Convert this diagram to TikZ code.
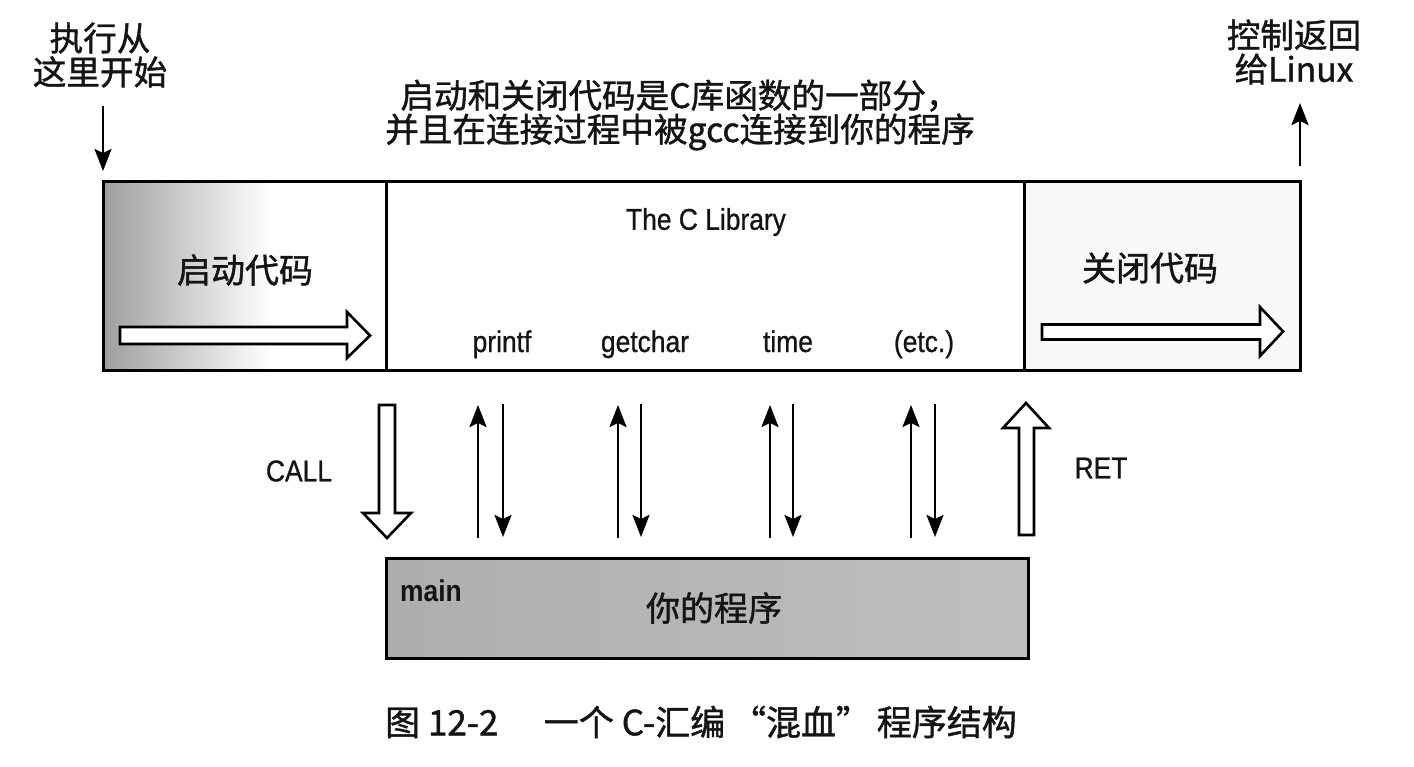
\documentclass[tikz,border=0pt]{standalone}
\usepackage{fontspec}
\setmainfont{Liberation Sans}
\newfontfamily\cjk[FakeBold=1.2]{Noto Sans CJK SC}
\newfontfamily\narrow[FakeStretch=0.88,FakeBold=0.8]{Liberation Sans}
\newfontfamily\narrowb[FakeStretch=0.88]{Liberation Sans Bold}
\usetikzlibrary{arrows.meta}
\definecolor{ink}{HTML}{141414}
\definecolor{endfill}{HTML}{F8F8F8}
\begin{document}
\begin{tikzpicture}[x=0.5pt,y=-0.5pt,
  box/.style={draw=black,line width=1.5pt,inner sep=0pt,minimum height=94.5pt},
  lat/.style={font=\narrow\fontsize{15}{18}\selectfont,text=ink,inner sep=0pt},
  cjkt/.style={font=\cjk\fontsize{16.8}{17}\selectfont,text=ink,align=center,inner sep=0pt},
  cjkbig/.style={font=\cjk\fontsize{17}{20}\selectfont,text=ink,inner sep=0pt},
  thinarr/.style={line width=1.2pt,-{Stealth[length=11pt,width=8.5pt,inset=2pt]}},
  hollow/.style={draw=black,line width=1.3pt,fill=white,line join=miter}
]
\useasboundingbox (0,0) rectangle (1414,766);
\fill[white] (0,0) rectangle (1414,766);

% shading of the boxes
\fill[left color=black!38,right color=white] (103,181) rectangle (270,370);
\fill[endfill] (1024,181) rectangle (1300,370);
\fill[left color=black!32,middle color=black!10,right color=black!25] (386,558) rectangle (1028,658);

% top row boxes
\node[box,minimum width=141.5pt] (start) at (244.5,275.5) {};
\node[box,minimum width=319pt] (lib) at (705,275.5) {};
\node[box,minimum width=138pt] (end) at (1162,275.5) {};
% main program box
\node[box,minimum width=321pt,minimum height=50pt] (prog) at (707,608) {};

% labels in boxes
\node[cjkbig] (startlbl) at (245,270) {启动代码};
\node[cjkbig] (endlbl) at (1150,268) {关闭代码};
\node[lat] (clib) at (706,222) {The C Library};
\node[lat,anchor=base] (printf) at (502,352) {printf};
\node[lat,anchor=base] (getchar) at (645,352) {getchar};
\node[lat,anchor=base] (time) at (788,352) {time};
\node[lat,anchor=base] (etc) at (924,352) {(etc.)};
\node[lat,font=\narrowb\fontsize{15}{18}\selectfont,anchor=base] (mainlbl) at (431,601) {main};
\node[cjkbig] (proglbl) at (714,608) {你的程序};

% hollow arrows
\draw[hollow] (120,327) -- (347,327) -- (347,312) -- (370,335.5) -- (347,358) -- (347,344) -- (120,344) -- cycle;
\draw[hollow] (1042,324.5) -- (1260,324.5) -- (1260,307) -- (1283,331.5) -- (1260,356) -- (1260,339.5) -- (1042,339.5) -- cycle;
\draw[hollow] (379,405) -- (395,405) -- (395,513) -- (411,513) -- (387,538) -- (363,513) -- (379,513) -- cycle;
\draw[hollow] (1019,535) -- (1034,535) -- (1034,428) -- (1049,428) -- (1026,403) -- (1003,428) -- (1019,428) -- cycle;
\node[lat] (call) at (299,471) {CALL};
\node[lat] (ret) at (1101,468) {RET};

% call / return pairs
\foreach \i/\u/\d in {1/478/503, 2/618/641, 3/770/793, 4/911/935} {
  \coordinate (ub\i) at (\u,538);
  \coordinate (ut\i) at (\u,405);
  \coordinate (dt\i) at (\d,404);
  \coordinate (db\i) at (\d,537);
  \draw[thinarr] (ub\i) -- (ut\i);
  \draw[thinarr] (dt\i) -- (db\i);
}

% entry and exit
\node[cjkt] (entry) at (100,55) {执行从\\这里开始};
\coordinate (entryfrom) at (103,106);
\coordinate (entryto) at (103,171);
\draw[thinarr] (entryfrom) -- (entryto);
\node[cjkt] (exit) at (1294,52) {控制返回\\给Linux};
\coordinate (exitfrom) at (1300,166);
\coordinate (exitto) at (1300,103);
\draw[thinarr] (exitfrom) -- (exitto);

% note
\node[cjkt] (note) at (680,115) {启动和关闭代码是C库函数的一部分，\\并且在连接过程中被gcc连接到你的程序};

% caption
\node[font=\cjk\fontsize{17.5}{20}\selectfont,text=ink,inner sep=0pt] (caption) at (701,722) {图 12-2\hspace{1.3em}一个 C-汇编\,“混血”\,程序结构};
\end{tikzpicture}
\end{document}
